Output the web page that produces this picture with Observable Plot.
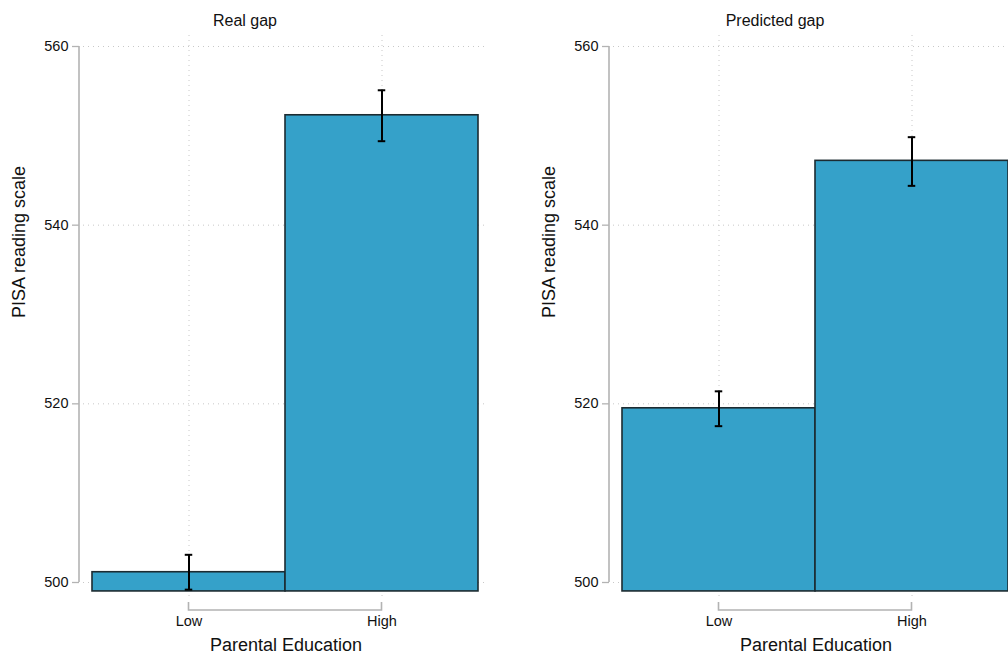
<!DOCTYPE html>
<html>
<head>
<meta charset="utf-8">
<script src="https://cdn.jsdelivr.net/npm/d3@7"></script>
<script src="https://cdn.jsdelivr.net/npm/@observablehq/plot@0.6"></script>
<style>
  html, body { margin: 0; padding: 0; background: #fff; width: 1008px; height: 655px; overflow: hidden; }
  #wrap { display: flex; width: 1060px; }
  .panel { width: 530px; flex: none; position: relative; }
  .title { height: 30px; width: 490px; text-align: center; font: 16px "Liberation Sans", Arial, sans-serif; line-height: 42px; color: #111; }
  svg { display: block; overflow: visible; }
</style>
</head>
<body>
<div id="wrap"></div>
<script>
// ---- data ----
const categories = ["Low", "High"];
const panelTitles = ["Real gap", "Predicted gap"];
const realMean = [501.15, 552.3];
const realLo = [499.2, 549.4];
const realHi = [503.1, 555.1];
const predMean = [519.5, 547.2];
const predLo = [517.5, 544.4];
const predHi = [521.4, 549.85];
const yTicks = [500, 520, 540, 560];
const yBase = 499;
const yLabel = "PISA reading scale";
const xLabel = "Parental Education";

const series = [
  {title: panelTitles[0], mean: realMean, lo: realLo, hi: realHi},
  {title: panelTitles[1], mean: predMean, lo: predLo, hi: predHi}
];

const barFill = "#35a1c9";
const barStroke = "#1c2b31";
const gridColor = "#c8c8c8";
const axisColor = "#b3b3b3";
const font = '"Liberation Sans", Arial, sans-serif';

const W = 530, H = 625;
const xRange = [91, 478];
const bw = (xRange[1] - xRange[0]) / categories.length;
const capW = 8;

const wrap = document.getElementById("wrap");

for (const s of series) {
  const data = categories.map((c, i) => ({cat: c, mean: s.mean[i], lo: s.lo[i], hi: s.hi[i]}));
  const panel = document.createElement("div");
  panel.className = "panel";
  const t = document.createElement("div");
  t.className = "title";
  t.textContent = s.title;
  panel.appendChild(t);

  const plot = Plot.plot({
    width: W,
    height: H,
    marginTop: 5,
    marginBottom: 55,
    marginLeft: 83,
    marginRight: 42,
    style: {fontFamily: font, fontSize: "14.5px", background: "transparent", color: "#111"},
    x: {type: "band", domain: categories, range: xRange, padding: 0, axis: null},
    y: {domain: [500, 560], range: [552, 16], axis: null},
    marks: [
      Plot.ruleY(yTicks, {stroke: gridColor, strokeWidth: 1, strokeDasharray: "1,4"}),
      Plot.ruleX(categories, {x: d => d, stroke: gridColor, strokeWidth: 1, strokeDasharray: "1,4"}),
      Plot.barY(data, {x: "cat", y1: yBase, y2: "mean", fill: barFill, stroke: barStroke, strokeWidth: 1.6}),
      Plot.ruleX(data, {x: "cat", y1: "lo", y2: "hi", stroke: "#000", strokeWidth: 2}),
      Plot.tickY(data, {x: "cat", y: "lo", stroke: "#000", strokeWidth: 2, inset: (bw - capW) / 2}),
      Plot.tickY(data, {x: "cat", y: "hi", stroke: "#000", strokeWidth: 2, inset: (bw - capW) / 2}),
      Plot.axisY({ticks: yTicks, tickSize: 7, tickPadding: 4, dx: -4, fontSize: 14.5, stroke: axisColor, strokeWidth: 1.3, tickFormat: d => String(d), fill: "#111"}),
      Plot.axisX({tickSize: 0, tickPadding: 15, fontSize: 14.5, label: null, fill: "#111"}),
      Plot.text([yLabel], {frameAnchor: "left", dx: -64, rotate: -90, fontSize: 18, fill: "#111", lineAnchor: "middle"}),
      Plot.text([xLabel], {frameAnchor: "bottom", dy: 45, fontSize: 18, fill: "#111", lineAnchor: "middle"})
    ]
  });

  // axis lines drawn with the plot's own scales
  const xs = plot.scale("x"), ys = plot.scale("y");
  const svg = d3.select(plot);
  const yAxisX = 83 - 4;
  svg.append("line")
    .attr("x1", yAxisX).attr("x2", yAxisX)
    .attr("y1", ys.apply(d3.min(yTicks))).attr("y2", ys.apply(d3.max(yTicks)))
    .attr("stroke", axisColor).attr("stroke-width", 1.6);
  const xa = categories.map(c => xs.apply(c) + xs.bandwidth / 2);
  const axY = ys.apply(yBase) + 19;
  const g = svg.append("g").attr("fill", "none").attr("stroke", axisColor).attr("stroke-width", 1.6);
  g.append("path").attr("d", `M${xa[0]},${axY - 8}V${axY}H${xa[1]}V${axY - 8}`);

  panel.appendChild(plot);
  wrap.appendChild(panel);
}
</script>
</body>
</html>
